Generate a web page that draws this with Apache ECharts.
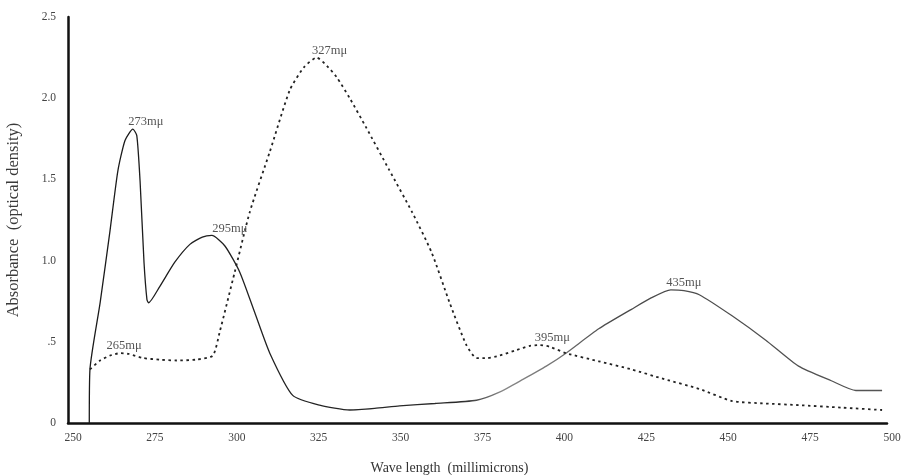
<!DOCTYPE html>
<html>
<head>
<meta charset="utf-8">
<script src="https://cdn.jsdelivr.net/npm/echarts@6/dist/echarts.min.js"></script>
<style>html,body{margin:0;padding:0;background:#fff;}#c{width:907px;height:475px;}</style>
</head>
<body>
<div id="c"></div>
<script>
// Solid curve: [wavelength mμ, absorbance]
const solidWave = [256.5,256.7,259.8,262.8,265.2,267.4,269.8,271.0,272.0,273.2,274.1,274.6,278,282.6,287.2,291.0,293.9,297.9,302.4,307,311.6,318.6,326.8,336,343.6,351.2,362,374.7,381.7,389,396,402,412,422,428,434,438,442.7,452.7,463,473,483,490.5,498.5];
const solidAbs  = [0,0.33,0.74,1.18,1.55,1.74,1.81,1.77,1.49,0.99,0.76,0.74,0.84,0.99,1.10,1.145,1.155,1.09,0.93,0.68,0.43,0.17,0.11,0.08,0.09,0.105,0.12,0.14,0.19,0.27,0.35,0.43,0.58,0.70,0.77,0.82,0.815,0.79,0.66,0.51,0.35,0.26,0.20,0.20];
// Dotted curve
const dotWave = [256.7,259.8,262.8,265.9,268.5,272.9,278,283.2,289,294.2,296.3,300.9,305.5,311.6,317.7,322,325.9,329,332,336,341,348,355,361,366.5,371.6,374.7,378,381.7,387,391,393.9,397,402,412,422,432,442.7,452.7,463,473,486,498.5];
const dotAbs  = [0.33,0.385,0.415,0.43,0.425,0.40,0.39,0.385,0.39,0.415,0.56,0.93,1.30,1.67,2.05,2.19,2.25,2.2,2.13,2.0,1.82,1.56,1.3,1.05,0.74,0.48,0.40,0.40,0.415,0.45,0.475,0.48,0.47,0.43,0.38,0.33,0.27,0.21,0.135,0.12,0.11,0.095,0.08];
// Peak annotations
const peakLabels = ['273mμ','295mμ','327mμ','265mμ','395mμ','435mμ'];
const peakWave   = [269.8,293.9,325.9,265.9,393.9,434];
const peakAbs    = [1.81,1.155,2.25,0.43,0.48,0.82];
const peakSeries = ['solid','solid','dot','dot','dot','solid'];
const xTicks = {min:250, max:500, step:25};
const yTickLabels = ['0','.5','1.0','1.5','2.0','2.5'];

const zip = (a,b)=>a.map((v,i)=>[v,b[i]]);
const serif = '"Liberation Serif","DejaVu Serif",serif';
const labelShift = {'265mμ':[4,2], '295mμ':[18,2]};
function marks(kind){
  const out=[];
  peakLabels.forEach((t,i)=>{
    if(peakSeries[i]!==kind) return;
    const m = {coord:[peakWave[i],peakAbs[i]], value:t};
    if(labelShift[t]) m.label = {offset:labelShift[t]};
    out.push(m);
  });
  return out;
}
const markCfg = kind => ({
  symbol:'circle', symbolSize:1, silent:true,
  itemStyle:{color:'transparent'},
  label:{show:true, position:'top', distance:2, offset:[13,2], formatter:p=>p.value, color:'#555', fontFamily:serif, fontSize:12.5},
  data:marks(kind)
});
const chart = echarts.init(document.getElementById('c'), null, {renderer:'canvas'});
chart.setOption({
  animation:false,
  backgroundColor:'#fff',
  grid:{left:68, right:20, top:17, bottom:52, containLabel:false, outerBoundsMode:'none'},
  xAxis:{type:'value', min:xTicks.min, max:xTicks.max, interval:xTicks.step,
    name:'Wave length  (millimicrons)', nameLocation:'middle', nameGap:38,
    nameTextStyle:{fontFamily:serif, fontSize:14, color:'#333', padding:[0,56,0,0]},
    axisLine:{lineStyle:{color:'#111', width:2.5}}, axisTick:{show:false}, splitLine:{show:false},
    axisLabel:{fontFamily:serif, fontSize:11.5, color:'#444', margin:9, padding:[0,0,0,10]}},
  yAxis:{type:'value', min:0, max:2.5, interval:0.5,
    name:'Absorbance  (optical density)', nameLocation:'middle', nameGap:46, nameRotate:90,
    nameTextStyle:{fontFamily:serif, fontSize:16.5, color:'#3a3a3a'},
    axisLine:{show:true, lineStyle:{color:'#111', width:2.5}}, axisTick:{show:false}, splitLine:{show:false},
    axisLabel:{fontFamily:serif, fontSize:11.5, color:'#444', margin:12, formatter:(v,i)=>yTickLabels[i]}},
  series:[
    {type:'line', data:zip(solidWave,solidAbs), showSymbol:false, smooth:0.2,
     lineStyle:{width:1.3, color:new echarts.graphic.LinearGradient(0,0,1,0,[
       {offset:0,color:'#1a1a1a'},{offset:0.47,color:'#2a2a2a'},{offset:0.52,color:'#888'},
       {offset:0.58,color:'#777'},{offset:0.66,color:'#4a4a4a'},{offset:1,color:'#555'}])},
     markPoint:markCfg('solid')},
    {type:'line', data:zip(dotWave,dotAbs), showSymbol:false, smooth:0.2,
     lineStyle:{color:'#222', width:1.8, type:[2.5,3.5]}, markPoint:markCfg('dot')}
  ]
});
</script>
</body>
</html>
